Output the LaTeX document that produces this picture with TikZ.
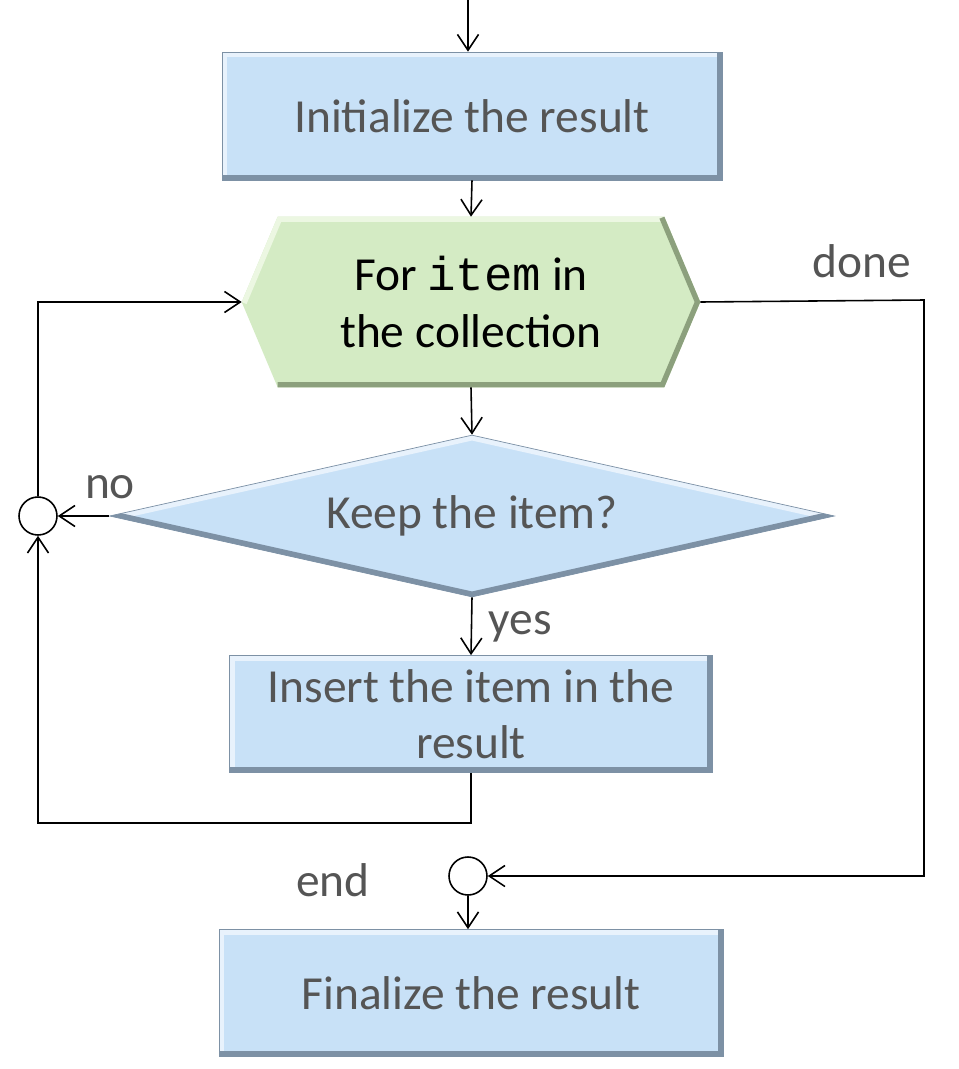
\documentclass[tikz,border=0pt]{standalone}
\usepackage{fontspec}
\setmainfont{Carlito}
\setmonofont{Liberation Mono}
\usetikzlibrary{shapes.geometric,arrows.meta,backgrounds}
\definecolor{boxblue}{RGB}{200,225,247}
\definecolor{boxgreen}{RGB}{212,235,196}
\definecolor{bevellight}{RGB}{232,242,252}
\definecolor{beveldark}{RGB}{125,145,165}
\definecolor{greenlight}{RGB}{236,247,226}
\definecolor{greendark}{RGB}{140,160,125}
\definecolor{textgray}{RGB}{85,85,85}
\newcommand\hexoutline{(loop.west) -- ([xshift=0.72cm]loop.north west) -- ([xshift=-0.72cm]loop.north east) -- (loop.east) -- ([xshift=-0.72cm]loop.south east) -- ([xshift=0.72cm]loop.south west) -- cycle}
\tikzset{
  arr/.style={-{Straight Barb[length=9pt,width=12pt]}, line width=0.9pt},
  bigtext/.style={font=\fontsize{27}{32}\selectfont},
  stepbox/.style={rectangle, fill=boxblue, draw=beveldark, line width=0.4pt, inner sep=0pt,
    bigtext, text=textgray, align=center,
    path picture={
      \draw[line width=6pt, bevellight] (path picture bounding box.south west) -- (path picture bounding box.north west) -- (path picture bounding box.north east);
      \draw[line width=6pt, beveldark] (path picture bounding box.north east) -- (path picture bounding box.south east) -- (path picture bounding box.south west);
    }},
  loopbox/.style={rectangle, inner sep=0pt, bigtext, align=center},
  testbox/.style={diamond, shape aspect=4.5, fill=boxblue, draw=beveldark, line width=0.4pt, inner sep=0pt,
    bigtext, text=textgray,
    path picture={
      \draw[line width=6pt, bevellight] (path picture bounding box.west) -- (path picture bounding box.north) -- (path picture bounding box.east);
      \draw[line width=6pt, beveldark] (path picture bounding box.west) -- (path picture bounding box.south) -- (path picture bounding box.east);
    }},
  joint/.style={circle, draw, line width=0.9pt, fill=white, minimum size=0.76cm, inner sep=0pt},
  lbl/.style={bigtext, text=textgray}
}
\begin{document}
\begin{tikzpicture}[x=0.02cm, y=-0.02cm]
  \useasboundingbox (0,0) rectangle (959,1069);
  % steps of the flow
  \node[stepbox, minimum width=10cm, minimum height=2.56cm] (init) at (472,116) {Initialize the result};
  \node[loopbox, minimum width=9.16cm, minimum height=3.4cm] (loop) at (471,302) {For \texttt{item} in\\the collection};
  \node[testbox, minimum width=14.5cm, minimum height=3.24cm] (keep) at (472,516) {Keep the item?};
  \node[stepbox, minimum width=9.66cm, minimum height=2.34cm] (insert) at (471,714) {Insert the item in the\\result};
  \node[stepbox, minimum width=10.08cm, minimum height=2.54cm] (final) at (471,993) {Finalize the result};
  \node[joint] (cno) at (38,516) {};
  \node[joint] (cend) at (468,876) {};
  % hexagon behind the loop text
  \begin{scope}[on background layer]
    \fill[boxgreen] \hexoutline;
    \clip \hexoutline;
    \draw[line width=6pt, greenlight] (loop.west) -- ([xshift=0.72cm]loop.north west) -- ([xshift=-0.72cm]loop.north east);
    \draw[line width=6pt, greendark] ([xshift=-0.72cm]loop.north east) -- (loop.east) -- ([xshift=-0.72cm]loop.south east) -- ([xshift=0.72cm]loop.south west);
  \end{scope}
  % labels
  \node[lbl] (lblno) at (110,487) {no};
  \node[lbl] (lblyes) at (520,627) {yes};
  \node[lbl] (lbldone) at (862,261) {done};
  \node[lbl] (lblend) at (333,880) {end};
  % connectors
  \coordinate (start) at (468,0);
  \coordinate (corner) at (924,300);
  \draw[arr] (start) -- (start |- init.north);
  \draw[arr] (init.south) -- (loop.north);
  \draw[arr] (loop.south) -- (keep.north);
  \draw[arr] (keep.west) -- (cno.east);
  \draw[arr] (cno.north) |- (loop.west);
  \draw[arr] (keep.south) -- (insert.north);
  \draw[arr] (insert.south) -- ++(0,50) -| (cno.south);
  \draw[arr] (loop.east) -- (corner) |- (cend.east);
  \draw[arr] (cend.south) -- (cend.south |- final.north);
\end{tikzpicture}
\end{document}
